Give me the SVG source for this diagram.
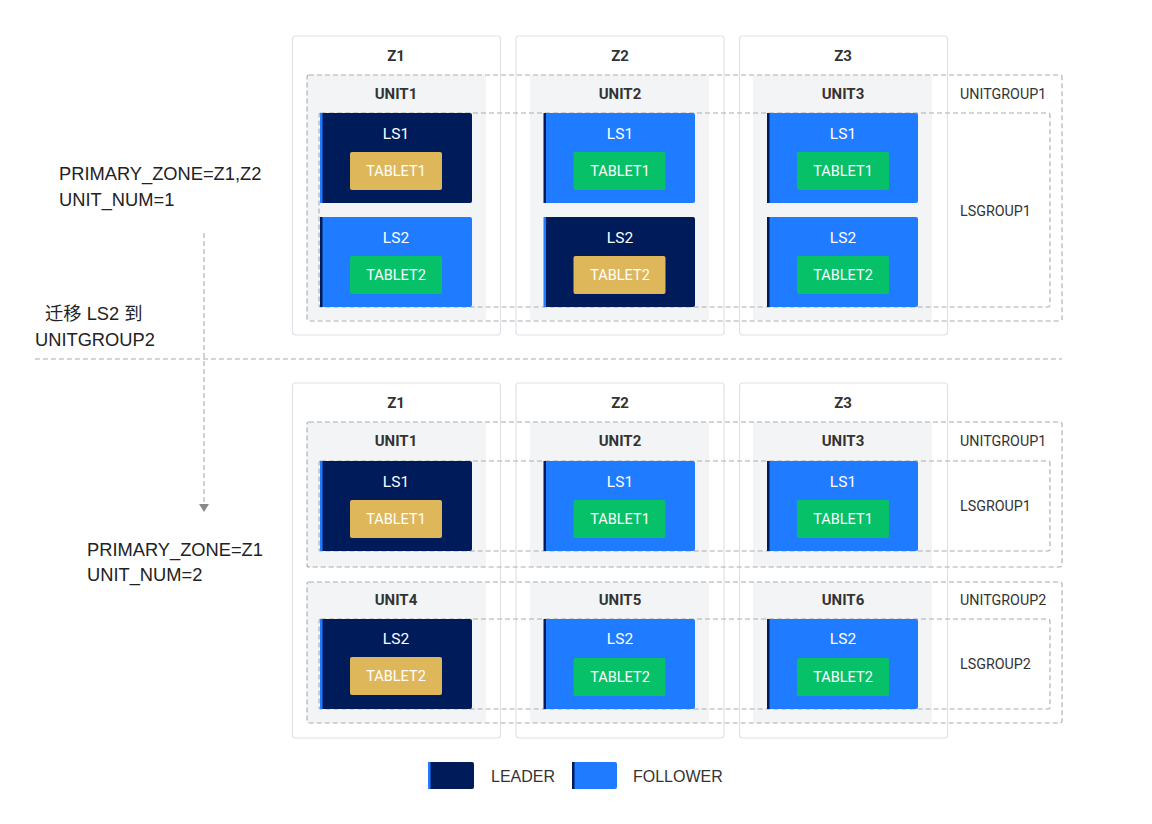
<svg xmlns="http://www.w3.org/2000/svg" width="1152" height="824" viewBox="0 0 1152 824">
<defs>
<style>
.zone{fill:#fff;stroke:#dfe2e7;stroke-width:1.2}
.unit{fill:#f3f4f6}
.dash{fill:none;stroke:#a9abb0;stroke-width:1.1;stroke-dasharray:5 3}
.leader{fill:#001b5a}
.follower{fill:#1f7bff}
.lstripe{fill:#1f7bff}
.fstripe{fill:#001b5a}
.gold{fill:#dfb75b}
.green{fill:#06c167}
.zt{font-family:Roboto,"Liberation Sans",sans-serif;font-weight:bold;font-size:15px;fill:#333;text-anchor:middle}
.ls{font-family:Roboto,"Liberation Sans",sans-serif;font-size:15.5px;fill:#fff;text-anchor:middle}
.tb{font-family:Roboto,"Liberation Sans",sans-serif;font-size:14.5px;fill:#fff;text-anchor:middle}
.gl{font-family:Roboto,"Liberation Sans",sans-serif;font-size:14.3px;fill:#333}
.note{font-family:"Liberation Sans",Arial,"Noto Sans CJK SC",sans-serif;font-size:18.3px;fill:#222}
.lg{font-family:"Liberation Sans",Arial,sans-serif;font-size:16px;fill:#333}
</style>
</defs>
<rect width="1152" height="824" fill="#fff"/>

<!-- connectors -->
<g id="connectors">
<line x1="35" y1="359" x2="1062" y2="359" class="dash"/>
<line x1="204" y1="233" x2="204" y2="502" class="dash" stroke="#999"/>
<path d="M199,504 L209,504 L204,512 Z" fill="#888"/>
</g>

<!-- top zones -->
<g id="top-zones">
<g id="tz1"><rect class="zone" x="292.5" y="36" width="208" height="299" rx="3"/><text class="zt" x="396" y="61">Z1</text></g>
<g id="tz2"><rect class="zone" x="516" y="36" width="208" height="299" rx="3"/><text class="zt" x="620" y="61">Z2</text></g>
<g id="tz3"><rect class="zone" x="739.5" y="36" width="208" height="299" rx="3"/><text class="zt" x="843" y="61">Z3</text></g>
</g>
<g id="top-units">
<g id="tu1"><rect class="unit" x="307" y="75" width="179" height="245"/><text class="zt" x="396" y="99">UNIT1</text></g>
<g id="tu2"><rect class="unit" x="530" y="75" width="179" height="245"/><text class="zt" x="620" y="99">UNIT2</text></g>
<g id="tu3"><rect class="unit" x="753" y="75" width="179" height="245"/><text class="zt" x="843" y="99">UNIT3</text></g>
</g>
<g id="top-groups">
<rect class="dash" x="307" y="75" width="755" height="246" rx="2"/>
<rect class="dash" x="319" y="113" width="731" height="194" rx="2"/>
<text class="gl" x="960" y="99">UNITGROUP1</text>
<text class="gl" x="960" y="216">LSGROUP1</text>
</g>

<!-- top LS boxes -->
<g id="t-z1-ls1"><rect class="leader" x="321" y="113" width="151" height="90" rx="2"/><rect class="lstripe" x="320" y="113" width="2.5" height="90"/><text class="ls" x="396" y="139">LS1</text><rect class="gold" x="350" y="152" width="92" height="38" rx="2"/><text class="tb" x="396" y="176">TABLET1</text></g>
<g id="t-z1-ls2"><rect class="follower" x="321" y="217" width="151" height="90" rx="2"/><rect class="fstripe" x="320" y="217" width="2.5" height="90"/><text class="ls" x="396" y="243">LS2</text><rect class="green" x="350" y="256" width="92" height="38" rx="2"/><text class="tb" x="396" y="280">TABLET2</text></g>
<g id="t-z2-ls1"><rect class="follower" x="544" y="113" width="151" height="90" rx="2"/><rect class="fstripe" x="543.5" y="113" width="2.5" height="90"/><text class="ls" x="620" y="139">LS1</text><rect class="green" x="573.5" y="152" width="92" height="38" rx="2"/><text class="tb" x="620" y="176">TABLET1</text></g>
<g id="t-z2-ls2"><rect class="leader" x="544" y="217" width="151" height="90" rx="2"/><rect class="lstripe" x="543.5" y="217" width="2.5" height="90"/><text class="ls" x="620" y="243">LS2</text><rect class="gold" x="573.5" y="256" width="92" height="38" rx="2"/><text class="tb" x="620" y="280">TABLET2</text></g>
<g id="t-z3-ls1"><rect class="follower" x="767" y="113" width="151" height="90" rx="2"/><rect class="fstripe" x="767" y="113" width="2.5" height="90"/><text class="ls" x="843" y="139">LS1</text><rect class="green" x="797" y="152" width="92" height="38" rx="2"/><text class="tb" x="843" y="176">TABLET1</text></g>
<g id="t-z3-ls2"><rect class="follower" x="767" y="217" width="151" height="90" rx="2"/><rect class="fstripe" x="767" y="217" width="2.5" height="90"/><text class="ls" x="843" y="243">LS2</text><rect class="green" x="797" y="256" width="92" height="38" rx="2"/><text class="tb" x="843" y="280">TABLET2</text></g>

<!-- bottom zones -->
<g id="bottom-zones">
<g id="bz1"><rect class="zone" x="292.5" y="383" width="208" height="355" rx="3"/><text class="zt" x="396" y="408">Z1</text></g>
<g id="bz2"><rect class="zone" x="516" y="383" width="208" height="355" rx="3"/><text class="zt" x="620" y="408">Z2</text></g>
<g id="bz3"><rect class="zone" x="739.5" y="383" width="208" height="355" rx="3"/><text class="zt" x="843" y="408">Z3</text></g>
</g>
<g id="bottom-units">
<g id="bu1"><rect class="unit" x="307" y="422" width="179" height="145"/><text class="zt" x="396" y="446">UNIT1</text></g>
<g id="bu2"><rect class="unit" x="530" y="422" width="179" height="145"/><text class="zt" x="620" y="446">UNIT2</text></g>
<g id="bu3"><rect class="unit" x="753" y="422" width="179" height="145"/><text class="zt" x="843" y="446">UNIT3</text></g>
<g id="bu4"><rect class="unit" x="307" y="582" width="179" height="141"/><text class="zt" x="396" y="605">UNIT4</text></g>
<g id="bu5"><rect class="unit" x="530" y="582" width="179" height="141"/><text class="zt" x="620" y="605">UNIT5</text></g>
<g id="bu6"><rect class="unit" x="753" y="582" width="179" height="141"/><text class="zt" x="843" y="605">UNIT6</text></g>
</g>
<g id="bottom-groups">
<rect class="dash" x="307" y="422" width="755" height="145" rx="2"/>
<rect class="dash" x="319" y="461" width="731" height="90" rx="2"/>
<rect class="dash" x="307" y="582" width="755" height="141" rx="2"/>
<rect class="dash" x="319" y="619" width="731" height="90" rx="2"/>
<text class="gl" x="960" y="446">UNITGROUP1</text>
<text class="gl" x="960" y="511">LSGROUP1</text>
<text class="gl" x="960" y="605">UNITGROUP2</text>
<text class="gl" x="960" y="669">LSGROUP2</text>
</g>

<!-- bottom LS boxes -->
<g id="b-z1-ls1"><rect class="leader" x="321" y="461" width="151" height="90" rx="2"/><rect class="lstripe" x="320" y="461" width="2.5" height="90"/><text class="ls" x="396" y="487">LS1</text><rect class="gold" x="350" y="500" width="92" height="38" rx="2"/><text class="tb" x="396" y="524">TABLET1</text></g>
<g id="b-z2-ls1"><rect class="follower" x="544" y="461" width="151" height="90" rx="2"/><rect class="fstripe" x="543.5" y="461" width="2.5" height="90"/><text class="ls" x="620" y="487">LS1</text><rect class="green" x="573.5" y="500" width="92" height="38" rx="2"/><text class="tb" x="620" y="524">TABLET1</text></g>
<g id="b-z3-ls1"><rect class="follower" x="767" y="461" width="151" height="90" rx="2"/><rect class="fstripe" x="767" y="461" width="2.5" height="90"/><text class="ls" x="843" y="487">LS1</text><rect class="green" x="797" y="500" width="92" height="38" rx="2"/><text class="tb" x="843" y="524">TABLET1</text></g>
<g id="b-z1-ls2"><rect class="leader" x="321" y="619" width="151" height="90" rx="2"/><rect class="lstripe" x="320" y="619" width="2.5" height="90"/><text class="ls" x="396" y="644">LS2</text><rect class="gold" x="350" y="657" width="92" height="38" rx="2"/><text class="tb" x="396" y="681">TABLET2</text></g>
<g id="b-z2-ls2"><rect class="follower" x="544" y="619" width="151" height="90" rx="2"/><rect class="fstripe" x="543.5" y="619" width="2.5" height="90"/><text class="ls" x="620" y="644">LS2</text><rect class="green" x="573.5" y="658" width="92" height="38" rx="2"/><text class="tb" x="620" y="682">TABLET2</text></g>
<g id="b-z3-ls2"><rect class="follower" x="767" y="619" width="151" height="90" rx="2"/><rect class="fstripe" x="767" y="619" width="2.5" height="90"/><text class="ls" x="843" y="644">LS2</text><rect class="green" x="797" y="658" width="92" height="38" rx="2"/><text class="tb" x="843" y="682">TABLET2</text></g>

<!-- notes -->
<g id="notes">
<text class="note" x="59" y="180">PRIMARY_ZONE=Z1,Z2</text>
<text class="note" x="59" y="206">UNIT_NUM=1</text>
<text class="note" x="45" y="320">迁移 LS2 到</text>
<text class="note" x="35" y="346">UNITGROUP2</text>
<text class="note" x="87" y="556">PRIMARY_ZONE=Z1</text>
<text class="note" x="87" y="581">UNIT_NUM=2</text>
</g>

<!-- legend -->
<g id="legend">
<g id="leg-leader"><rect class="leader" x="428" y="762" width="46" height="27" rx="2"/><rect class="lstripe" x="428" y="762" width="2.5" height="27"/><text class="lg" x="491" y="782">LEADER</text></g>
<g id="leg-follower"><rect class="follower" x="572" y="762" width="45" height="27" rx="2"/><rect class="fstripe" x="572" y="762" width="2.5" height="27"/><text class="lg" x="633" y="782">FOLLOWER</text></g>
</g>
</svg>
